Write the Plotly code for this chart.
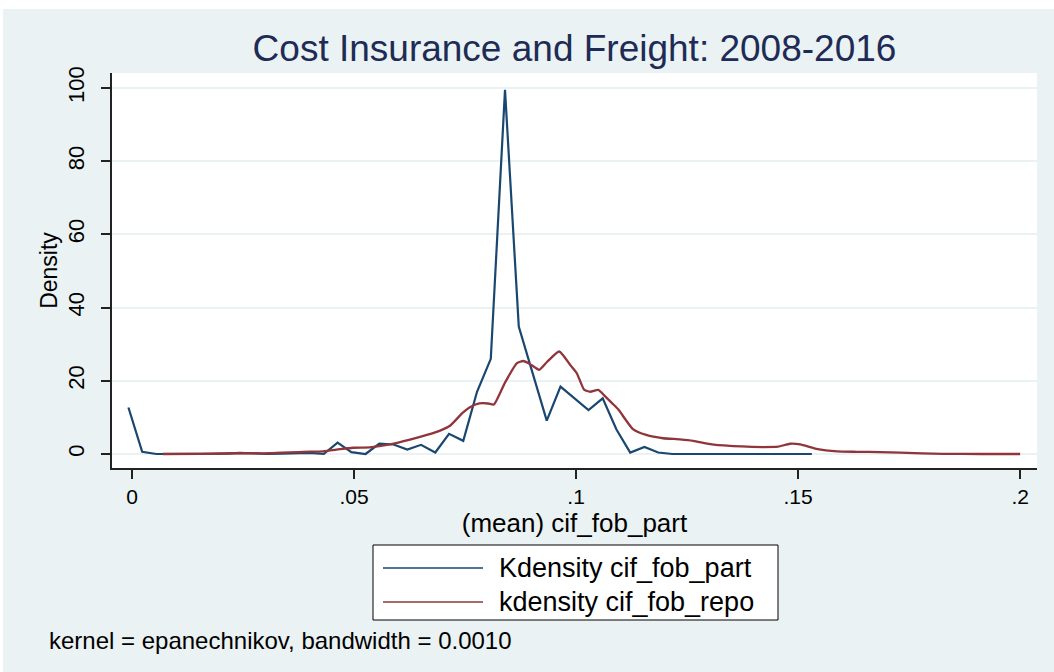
import plotly.graph_objects as go

# ---- data ----
part_x = [-0.0008, 0.0023, 0.0055, 0.0086, 0.0118, 0.0149, 0.0180, 0.0212, 0.0243, 0.0275,
          0.0306, 0.0337, 0.0369, 0.0400, 0.0432, 0.0463, 0.0494, 0.0526, 0.0557, 0.0589,
          0.0620, 0.0651, 0.0683, 0.0714, 0.0746, 0.0777, 0.0808, 0.0840, 0.0871, 0.0903,
          0.0934, 0.0965, 0.0997, 0.1028, 0.1060, 0.1091, 0.1122, 0.1154, 0.1185, 0.1217,
          0.1248, 0.1279, 0.1311, 0.1342, 0.1374, 0.1405, 0.1436, 0.1468, 0.1499, 0.1531]
part_y = [12.7, 0.6, 0.0, 0.0, 0.0, 0.0, 0.1, 0.1, 0.3, 0.1,
          0.0, 0.1, 0.2, 0.3, 0.0, 3.1, 0.5, 0.0, 2.8, 2.6,
          1.2, 2.5, 0.4, 5.5, 3.6, 17.0, 26.0, 99.5, 34.8, 22.0,
          9.1, 18.4, 15.2, 12.0, 15.2, 6.7, 0.4, 1.9, 0.4, 0.0,
          0.0, 0.0, 0.0, 0.0, 0.0, 0.0, 0.0, 0.0, 0.0, 0.0]

repo_x = [0.0070, 0.0153, 0.0243, 0.0311, 0.0385, 0.0430, 0.0468, 0.0498, 0.0536, 0.0581,
          0.0626, 0.0664, 0.0694, 0.0716, 0.0745, 0.0761, 0.0782, 0.0802, 0.0815, 0.0840,
          0.0867, 0.0881, 0.0896, 0.0917, 0.0935, 0.0962, 0.0989, 0.1002, 0.1018, 0.1032,
          0.1050, 0.1065, 0.1081, 0.1095, 0.1128, 0.1158, 0.1196, 0.1234, 0.1264, 0.1302,
          0.1347, 0.1385, 0.1421, 0.1455, 0.1482, 0.1505, 0.1541, 0.1588, 0.1633, 0.1685,
          0.1730, 0.1827, 0.1910, 0.2000]
repo_y = [0.0, 0.05, 0.2, 0.2, 0.6, 0.7, 1.3, 1.7, 1.8, 2.6,
          3.9, 5.2, 6.4, 7.7, 11.3, 12.8, 13.8, 13.8, 13.5, 19.5,
          24.8, 25.4, 24.6, 23.0, 25.2, 28.0, 24.0, 22.0, 17.6, 17.0,
          17.5, 15.8, 13.9, 12.2, 6.8, 5.2, 4.3, 4.0, 3.6, 2.7,
          2.2, 2.0, 1.9, 2.0, 2.8, 2.6, 1.4, 0.7, 0.6, 0.5,
          0.35, 0.05, 0.0, 0.0]

x_tickvals = [0, 0.05, 0.1, 0.15, 0.2]
x_ticktext = ["0", ".05", ".1", ".15", ".2"]
y_tickvals = [0, 20, 40, 60, 80, 100]
y_ticktext = ["0", "20", "40", "60", "80", "100"]

names = ["Kdensity cif_fob_part", "kdensity cif_fob_repo"]
title_text = "Cost Insurance and Freight: 2008-2016"
x_title = "(mean) cif_fob_part"
y_title = "Density"
note_text = "kernel = epanechnikov, bandwidth = 0.0010"

# ---- styling ----
FONT = "Liberation Sans, Arial, sans-serif"
BG = "#eaf2f3"
BLUE = "#1a476f"
RED = "#90353b"
colors = [BLUE, RED]

fig = go.Figure()
fig.add_trace(go.Scatter(x=part_x, y=part_y, mode="lines", name=names[0],
                         line=dict(color=BLUE, width=2.2), showlegend=False))
fig.add_trace(go.Scatter(x=repo_x, y=repo_y, mode="lines", name=names[1],
                         line=dict(color=RED, width=2.3, shape="spline", smoothing=0.5),
                         showlegend=False))

W, H = 1054, 672
L, R, T, B = 112, 17, 73, 204
pw, ph = W - L - R, H - T - B

def px_to_paper_x(px):
    return (px - L) / pw

def py_to_paper_y(py):
    return (H - B - py) / ph

shapes = [
    dict(type="rect", xref="paper", yref="paper",
         x0=px_to_paper_x(0), x1=px_to_paper_x(W),
         y0=py_to_paper_y(9), y1=py_to_paper_y(0),
         fillcolor="white", line=dict(width=0), layer="below"),
    dict(type="rect", xref="paper", yref="paper",
         x0=px_to_paper_x(0), x1=px_to_paper_x(3),
         y0=py_to_paper_y(H), y1=py_to_paper_y(0),
         fillcolor="white", line=dict(width=0), layer="below"),
    # legend box
    dict(type="rect", xref="paper", yref="paper",
         x0=px_to_paper_x(373), x1=px_to_paper_x(778),
         y0=py_to_paper_y(620), y1=py_to_paper_y(545),
         fillcolor="white", line=dict(color="black", width=1)),
]
annotations = [
    dict(text=note_text, xref="paper", yref="paper",
         x=px_to_paper_x(47), y=py_to_paper_y(640), xanchor="left", yanchor="middle",
         showarrow=False, font=dict(family=FONT, size=24, color="black")),
]
legend_rows = [568, 602]
for name, col, row in zip(names, colors, legend_rows):
    shapes.append(dict(type="line", xref="paper", yref="paper",
                       x0=px_to_paper_x(383), x1=px_to_paper_x(483),
                       y0=py_to_paper_y(row), y1=py_to_paper_y(row),
                       line=dict(color=col, width=1.6)))
    annotations.append(dict(text=name, xref="paper", yref="paper",
                            x=px_to_paper_x(497), y=py_to_paper_y(row),
                            xanchor="left", yanchor="middle", showarrow=False,
                            font=dict(family=FONT, size=27, color="black")))

fig.update_layout(
    width=W, height=H,
    margin=dict(l=L, r=R, t=T, b=B, pad=0),
    paper_bgcolor=BG,
    plot_bgcolor="white",
    font=dict(family=FONT, color="black"),
    title=dict(text=title_text, x=0.5, xref="paper", xanchor="center",
               y=1 - 48 / H, yref="container", yanchor="middle",
               font=dict(family=FONT, size=37, color="#1e2c55")),
    showlegend=False,
    xaxis=dict(range=[-0.0045, 0.2038], tickvals=x_tickvals, ticktext=x_ticktext,
               showgrid=False, zeroline=False, showline=True, linecolor="#222",
               linewidth=1.5, ticks="outside", ticklen=9, tickcolor="#222", tickwidth=1.5,
               tickfont=dict(family=FONT, size=21, color="black"),
               title=dict(text=x_title, font=dict(family=FONT, size=26, color="black"),
                          standoff=0)),
    yaxis=dict(range=[-3.83, 104.1], tickvals=y_tickvals, ticktext=y_ticktext,
               showgrid=True, gridcolor=BG, gridwidth=2, zeroline=False,
               showline=True, linecolor="#222", linewidth=1.5,
               ticks="outside", ticklen=9, tickcolor="#222", tickwidth=1.5,
               tickangle=-90, ticklabelstandoff=8,
               tickfont=dict(family=FONT, size=22, color="black"),
               title=dict(text=y_title, font=dict(family=FONT, size=23, color="black"),
                          standoff=0)),
    shapes=shapes,
    annotations=annotations,
)

fig.write_html("out.html", config={"displayModeBar": False},
               post_script="document.body.style.margin='0';document.body.style.overflow='hidden';")
